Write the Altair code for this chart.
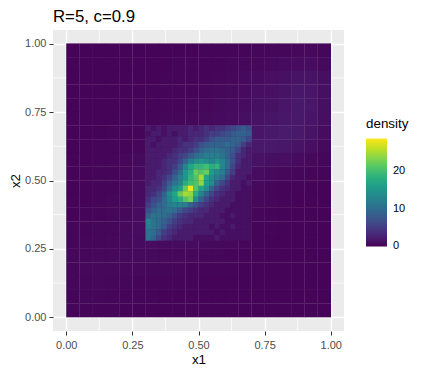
import altair as alt
import pandas as pd

TITLE = "R=5, c=0.9"
TICKS = [0, 0.25, 0.5, 0.75, 1]
MINOR = [0.125, 0.375, 0.625, 0.875]
LEGEND_VALUES = [0, 10, 20]
CMIN = -0.05
CMAX = 28.8

# coarse background: 0.05 bins, top row first (y 1.00 -> 0.00), x 0 -> 1
outer_rows = [
    [.2,.2,.2,.2,.2,.2,.2,.2,.2,.2,.3,.3,.3,.3,.4,.4,.4,.5,.5,.4],
    [.2,.2,.2,.2,.2,.2,.2,.2,.3,.3,.3,.3,.4,.4,.5,.6,.7,.8,.8,.6],
    [.2,.2,.2,.2,.2,.2,.2,.3,.3,.3,.3,.4,.5,.6,.7,.9,1.1,1.3,1.3,.9],
    [.2,.2,.2,.2,.2,.2,.3,.3,.3,.3,.4,.5,.6,.7,.9,1.1,1.3,1.6,1.5,1.0],
    [.2,.2,.2,.2,.2,.3,.3,.3,.3,.4,.5,.6,.7,.8,1.0,1.2,1.5,1.8,1.6,1.0],
    [.2,.2,.2,.2,.3,.3,.3,.4,.4,.5,.6,.7,.8,1.0,1.2,1.4,1.6,1.7,1.4,.9],
    [.2,.2,.2,.3,.3,.3,.4,.4,.5,.6,.7,.8,1.0,1.2,1.5,1.8,2.0,1.8,1.3,.8],
    [.2,.2,.3,.3,.3,.4,.5,.6,.7,.8,1.0,1.1,1.3,1.5,1.8,1.8,1.6,1.3,.9,.6],
    [.2,.2,.3,.3,.4,.6,.8,.9,.9,1.0,1.1,1.2,1.4,1.3,1.2,1.0,.9,.7,.5,.4],
    [.2,.2,.3,.3,.5,.7,.9,.9,.9,.9,1.0,1.0,1.1,1.0,.8,.6,.5,.4,.3,.3],
    [.2,.2,.3,.3,.5,.8,.9,.9,.9,.9,.9,.9,.9,.8,.6,.4,.3,.3,.2,.2],
    [.2,.2,.3,.4,.5,.8,.9,.9,.9,.9,.9,.9,.8,.7,.5,.4,.3,.2,.2,.2],
    [.2,.3,.3,.4,.5,.8,.9,.9,.9,.9,.9,.8,.7,.6,.4,.3,.2,.2,.2,.2],
    [.3,.3,.4,.4,.6,.8,.9,.9,.8,.8,.8,.7,.6,.4,.3,.3,.2,.2,.2,.2],
    [.3,.4,.4,.5,.6,.7,.8,.7,.7,.7,.6,.6,.5,.4,.3,.2,.2,.2,.2,.2],
    [.4,.4,.5,.5,.6,.6,.6,.5,.5,.5,.4,.4,.3,.3,.2,.2,.2,.2,.2,.2],
    [.4,.5,.5,.5,.5,.5,.4,.4,.4,.3,.3,.3,.3,.2,.2,.2,.2,.2,.2,.2],
    [.4,.4,.5,.4,.4,.3,.3,.3,.3,.3,.2,.2,.2,.2,.2,.2,.2,.2,.2,.2],
    [.3,.4,.4,.3,.3,.3,.3,.2,.2,.2,.2,.2,.2,.2,.2,.2,.2,.2,.2,.2],
    [.3,.3,.3,.3,.2,.2,.2,.2,.2,.2,.2,.2,.2,.2,.2,.2,.2,.2,.2,.2],
]

# central square: 0.02 bins, x from 0.30, top row y = 0.70
core_rows = [
    [2,1,2,1,2,2,2,2,3,2,3,4,3,4,4,5,6,7,8,7],
    [1,2,2,1,2,1,2,2,3,3,3,4,5,5,6,7,8,9,9,8],
    [2,2,1,2,2,2,3,2,3,4,4,5,7,8,8,8,9,9,8,6],
    [2,1,2,2,2,2,3,4,4,5,7,8,9,9,9,10,9,8,5,3],
    [2,2,2,2,2,3,4,4,5,7,9,10,11,11,10,9,8,6,3,2],
    [2,2,2,2,3,4,5,6,8,10,11,12,12,12,11,9,7,4,3,2],
    [2,2,2,3,4,4,6,9,12,14,15,14,13,15,13,10,7,4,2,2],
    [2,2,2,3,4,5,8,13,17,19,19,20,18,19,13,10,6,3,2,2],
    [2,2,3,3,4,7,10,15,18,22,21,22,16,14,12,8,5,2,2,2],
    [2,2,3,4,6,9,12,15,19,21,25,17,14,12,10,6,3,2,2,1],
    [2,3,3,5,8,11,13,18,20,21,24,16,14,9,6,4,2,2,1,2],
    [3,3,4,6,10,14,16,22,28,21,17,14,9,6,4,3,2,2,1,1],
    [3,4,6,9,14,17,22,25,24,18,13,9,6,4,3,2,2,1,1,1],
    [4,6,7,10,13,16,18,21,23,14,9,6,4,3,2,2,2,1,1,1],
    [5,7,9,10,12,13,13,12,9,7,5,4,3,2,2,2,1,1,1,1],
    [7,9,10,10,11,10,8,6,5,4,3,3,2,2,2,1,1,1,1,1],
    [9,11,11,10,9,7,5,4,3,3,3,2,2,2,1,1,2,1,1,1],
    [13,11,10,9,7,5,4,3,3,2,2,2,2,2,2,1,1,1,1,1],
    [12,11,10,8,5,4,3,2,2,2,2,2,1,2,1,1,2,1,1,1],
    [11,10,8,5,4,3,2,2,2,2,2,2,2,1,2,1,1,1,1,1],
    [11,9,6,4,3,2,2,2,2,1,1,1,1,2,1,1,1,1,1,1],
]

SEAM = 0.001  # neighbouring cells overlap slightly so no hairlines show between them

def cells(rows, x0, ytop, step):
    out = []
    for r, row in enumerate(rows):
        for c, v in enumerate(row):
            out.append({
                "x1": round(x0 + c * step, 4), "x1e": round(x0 + (c + 1) * step + SEAM, 4),
                "x2": round(ytop - (r + 1) * step, 4), "x2e": round(ytop - r * step + SEAM, 4),
                "density": v,
            })
    return out

df = pd.DataFrame(cells(outer_rows, 0.0, 1.0, 0.05) + cells(core_rows, 0.30, 0.70, 0.02))

xs = alt.Scale(domain=[-0.05, 1.05], nice=False, zero=False)
ys = alt.Scale(domain=[-0.05, 1.05], nice=False, zero=False)
cs = alt.Scale(scheme="viridis", domain=[CMIN, CMAX], nice=False, zero=False)

axis_common = dict(
    values=TICKS, format=".2f", domain=False, tickColor="#333333", tickSize=4,
    tickWidth=1, labelColor="#4D4D4D", labelFontSize=11, labelFont="Liberation Sans",
    titleFont="Liberation Sans", titleFontSize=13.4, titleFontWeight="normal",
    titleColor="black", grid=True, gridColor="white", gridWidth=1.4,
)
x_axis = alt.Axis(**axis_common, labelPadding=4, titlePadding=2)
y_axis = alt.Axis(**axis_common, labelPadding=3, titlePadding=2)

minor_x = alt.Chart(pd.DataFrame({"v": MINOR})).mark_rule(color="white", strokeWidth=0.7).encode(
    x=alt.X("v:Q", scale=xs, title="x1", axis=x_axis))
minor_y = alt.Chart(pd.DataFrame({"v": MINOR})).mark_rule(color="white", strokeWidth=0.7).encode(
    y=alt.Y("v:Q", scale=ys, title="x2", axis=y_axis))

rects = alt.Chart(df).mark_rect().encode(
    x=alt.X("x1:Q", scale=xs, title="x1", axis=x_axis),
    x2="x1e:Q",
    y=alt.Y("x2:Q", scale=ys, title="x2", axis=y_axis),
    y2="x2e:Q",
    color=alt.Color("density:Q", scale=cs,
        legend=alt.Legend(
            title="density", values=LEGEND_VALUES, orient="none", legendX=313, legendY=87,
            gradientLength=108, gradientThickness=21, gradientStrokeWidth=0,
            titleFont="Liberation Sans", titleFontSize=13.4, titleFontWeight="normal",
            titleColor="black", titlePadding=8, labelFont="Liberation Sans", labelFontSize=11,
            labelColor="black", labelOffset=6,
        )),
)

chart = alt.layer(minor_x, minor_y, rects).properties(
    width=291, height=301,
    background="white",
    title=alt.TitleParams(TITLE, anchor="start", font="Liberation Sans", fontSize=16.8,
                          fontWeight="normal", color="black", offset=4, frame="group"),
    autosize=alt.AutoSizeParams(type="none"),
    padding={"left": 45, "top": 22, "right": 71, "bottom": 36},
).resolve_scale(x="shared", y="shared").configure_view(fill="#EBEBEB", stroke=None)

chart.save("out.html", embed_options={"renderer": "svg", "actions": False})
